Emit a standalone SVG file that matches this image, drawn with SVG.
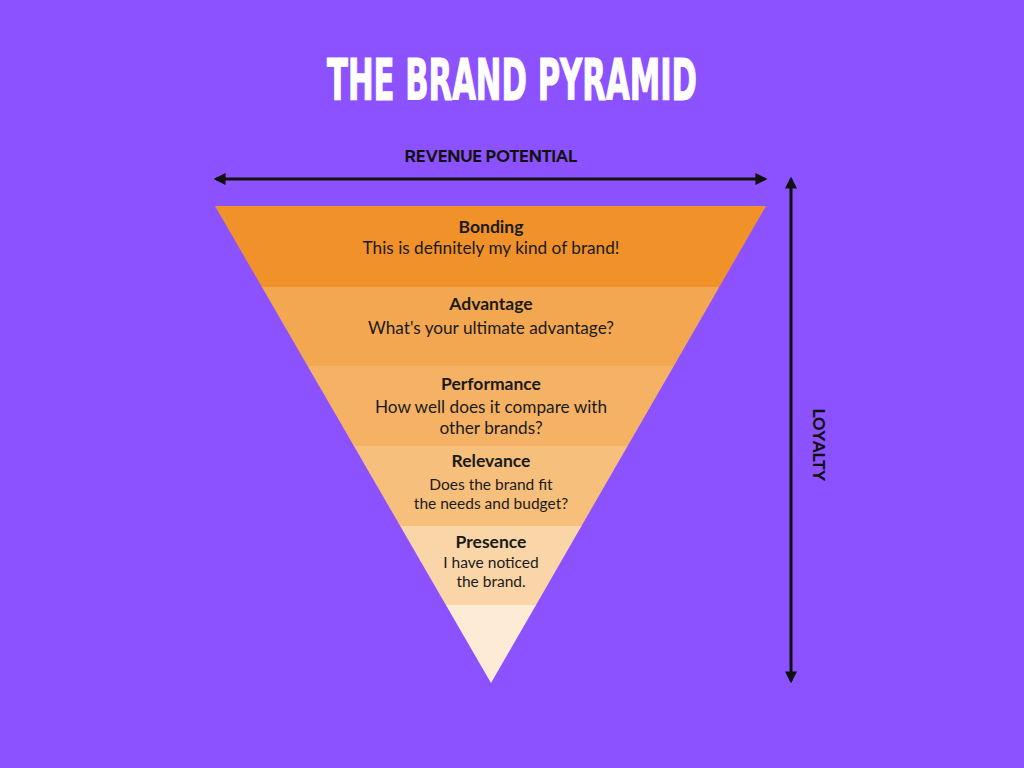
<svg xmlns="http://www.w3.org/2000/svg" width="1024" height="768" viewBox="0 0 1024 768">
<defs>
<style>
.t{font-family:Lato,"Open Sans","Liberation Sans",sans-serif;fill:#1a1a1a;text-anchor:middle}
.h{font-weight:bold;font-size:17.5px}
.s{font-size:17.2px}
.s2{font-size:15.5px}
.ax{font-family:"Kumbh Sans",Lato,"Liberation Sans",sans-serif;font-weight:bold;font-size:16.2px;fill:#111;text-anchor:middle}
.ln{stroke:#111;stroke-width:3;fill:none}
</style>
<marker id="ah" viewBox="0 0 10 10" refX="8" refY="5" markerWidth="4" markerHeight="4" orient="auto-start-reverse" markerUnits="strokeWidth">
<path d="M0,0 L10,5 L0,10 z" fill="#111"/>
</marker>
</defs>
<rect width="1024" height="768" fill="#8C52FF"/>
<text x="512" y="100" font-family="'Liberation Sans Narrow','DejaVu Sans Condensed','Liberation Sans',sans-serif" font-weight="bold" font-size="57" fill="#fff" stroke="#fff" stroke-width="1.2" text-anchor="middle" textLength="370" lengthAdjust="spacingAndGlyphs">THE BRAND PYRAMID</text>
<g id="connectors">
<line class="ln" x1="216" y1="179" x2="765" y2="179" marker-start="url(#ah)" marker-end="url(#ah)"/>
<line class="ln" x1="791" y1="179" x2="791" y2="681" marker-start="url(#ah)" marker-end="url(#ah)"/>
</g>
<text class="ax" x="491" y="162">REVENUE POTENTIAL</text>
<text class="ax" transform="translate(813,445) rotate(90)" x="0" y="0">LOYALTY</text>
<g id="bonding">
<polygon points="215,206 766,206 719.3,287 261.9,287" fill="#F19129"/>
<text class="t h" x="491" y="233">Bonding</text>
<text class="t s" x="491" y="254">This is definitely my kind of brand!</text>
</g>
<g id="advantage">
<polygon points="261.9,287 719.3,287 673.8,366 307.6,366" fill="#F3A751"/>
<text class="t h" x="491" y="310">Advantage</text>
<text class="t s" x="491" y="334">What's your ultimate advantage?</text>
</g>
<g id="performance">
<polygon points="307.6,366 673.8,366 627.6,446 353.9,446" fill="#F5B265"/>
<text class="t h" x="491" y="390">Performance</text>
<text class="t s" x="491" y="413">How well does it compare with</text>
<text class="t s" x="491" y="434">other brands?</text>
</g>
<g id="relevance">
<polygon points="353.9,446 627.6,446 581.5,526 400.2,526" fill="#F7BF7C"/>
<text class="t h" x="491" y="467">Relevance</text>
<text class="t s2" x="491" y="490">Does the brand fit</text>
<text class="t s2" x="491" y="509">the needs and budget?</text>
</g>
<g id="presence">
<polygon points="400.2,526 581.5,526 536,605 445.9,605" fill="#FAD5A7"/>
<text class="t h" x="491" y="548">Presence</text>
<text class="t s2" x="491" y="568">I have noticed</text>
<text class="t s2" x="491" y="587">the brand.</text>
</g>
<g id="apex">
<polygon points="445.9,605 536,605 491,683" fill="#FDEBD6"/>
</g>
</svg>
